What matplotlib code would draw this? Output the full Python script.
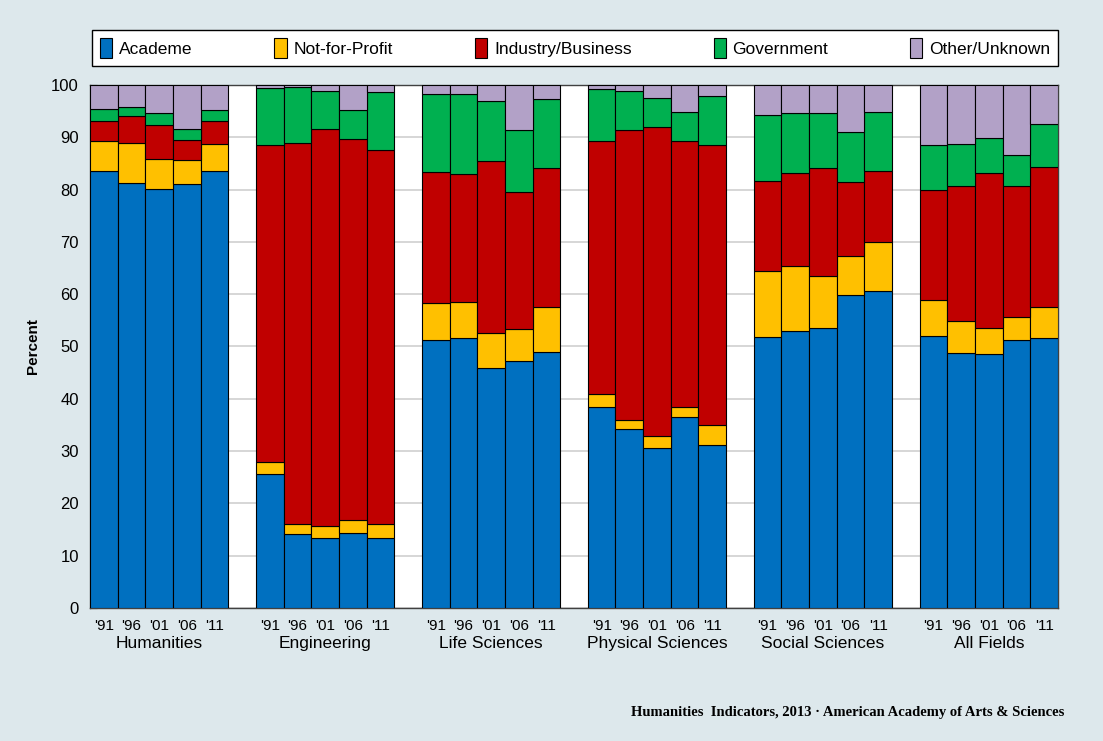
import matplotlib
matplotlib.use("Agg")
import matplotlib.pyplot as plt
from matplotlib.ticker import MultipleLocator
import numpy as np

# données (en %)
fields = ["Humanities", "Engineering", "Life Sciences", "Physical Sciences",
          "Social Sciences", "All Fields"]
years = ["'91", "'96", "'01", "'06", "'11"]
categories = ["Academe", "Not-for-Profit", "Industry/Business", "Government", "Other/Unknown"]

academe = [83.6, 81.2, 80.2, 81.1, 83.6,
           25.7, 14.1, 13.4, 14.4, 13.4,
           51.2, 51.7, 45.8, 47.3, 49.0,
           38.5, 34.3, 30.5, 36.6, 31.2,
           51.9, 52.9, 53.6, 59.8, 60.7,
           52.1, 48.7, 48.5, 51.3, 51.7]
not_for_profit = [5.6, 7.7, 5.6, 4.5, 5.2,
                  2.3, 1.9, 2.2, 2.4, 2.6,
                  7.1, 6.8, 6.7, 6.1, 8.5,
                  2.5, 1.7, 2.4, 1.9, 3.7,
                  12.6, 12.5, 9.8, 7.5, 9.2,
                  6.7, 6.2, 5.1, 4.3, 5.8]
industry = [3.9, 5.2, 6.6, 3.9, 4.3,
            60.6, 73.0, 75.9, 72.9, 71.6,
            25.0, 24.4, 32.9, 26.1, 26.6,
            48.2, 55.4, 59.0, 50.7, 53.7,
            17.2, 17.7, 20.8, 14.1, 13.7,
            21.2, 25.8, 29.5, 25.1, 26.9]
government = [2.4, 1.7, 2.2, 2.1, 2.2,
              10.9, 10.7, 7.3, 5.6, 11.0,
              14.9, 15.3, 11.6, 11.9, 13.2,
              10.1, 7.4, 5.7, 5.7, 9.2,
              12.5, 11.6, 10.5, 9.6, 11.3,
              8.6, 8.1, 6.7, 5.9, 8.1]
other = [4.5, 4.2, 5.4, 8.4, 4.7,
         0.5, 0.3, 1.2, 4.7, 1.4,
         1.8, 1.8, 3.0, 8.6, 2.7,
         0.7, 1.2, 2.4, 5.1, 2.2,
         5.8, 5.3, 5.3, 9.0, 5.1,
         11.4, 11.2, 10.2, 13.4, 7.5]

series = [academe, not_for_profit, industry, government, other]
couleurs = ["#0070C0", "#FFC000", "#C00000", "#00B050", "#B2A1C7"]

fond = "#DDE8EC"
police = ["Liberation Sans Narrow", "Liberation Sans", "DejaVu Sans"]
plt.rcParams["font.family"] = police

fig = plt.figure(figsize=(11.03, 7.41), dpi=100, facecolor=fond)
ax = fig.add_axes([0.0816, 0.1795, 0.8776, 0.7058])

# position des barres : 5 barres par groupe + 1 espace vide
x = []
for g in range(len(fields)):
    for j in range(len(years)):
        x.append(g * 6 + j)
x = np.array(x)

bas = np.zeros(len(x))
for vals, coul, nom in zip(series, couleurs, categories):
    ax.bar(x, vals, width=1.0, bottom=bas, color=coul, edgecolor="black",
           linewidth=0.8, label=nom, zorder=3)
    bas = bas + np.array(vals)

ax.set_xlim(-0.5, 34.5)
ax.set_ylim(0, 100)
ax.yaxis.set_major_locator(MultipleLocator(10))
ax.yaxis.set_minor_locator(MultipleLocator(5))
ax.grid(axis="y", color="#D0D0D0", linewidth=1.2, zorder=0)
ax.tick_params(axis="y", which="major", direction="in", length=5, labelsize=12, pad=8)
ax.tick_params(axis="y", which="minor", direction="in", length=3)
ax.set_xticks(x)
ax.set_xticklabels(years * len(fields), fontsize=11)
ax.tick_params(axis="x", length=0, pad=8)
for s in ax.spines.values():
    s.set_color("#404040")
    s.set_linewidth(1.0)

ax.set_ylabel("Percent", fontsize=11, fontweight="bold", family=["Liberation Sans", "DejaVu Sans"], labelpad=8)

for g, nom in enumerate(fields):
    ax.text(g * 6 + 2, -6.8, nom, ha="center", va="center", fontsize=12.5)

# légende en haut, dans un cadre blanc
leg = fig.legend(loc="lower left", bbox_to_anchor=(0.0835, 0.911, 0.876, 0.049),
                 ncol=5, mode="expand", fontsize=12.5, frameon=True, fancybox=False,
                 edgecolor="black", facecolor="white", framealpha=1,
                 handlelength=0.7, handleheight=1.4, borderpad=0.45,
                 handletextpad=0.4, borderaxespad=0)
leg.get_frame().set_linewidth(1.0)

fig.text(0.965, 0.038, "Humanities  Indicators, 2013 \u00b7 American Academy of Arts & Sciences",
         ha="right", va="center", fontsize=10.5, fontweight="bold",
         family=["Liberation Serif", "DejaVu Serif"])

plt.savefig("out.png", dpi=100, facecolor=fond)
